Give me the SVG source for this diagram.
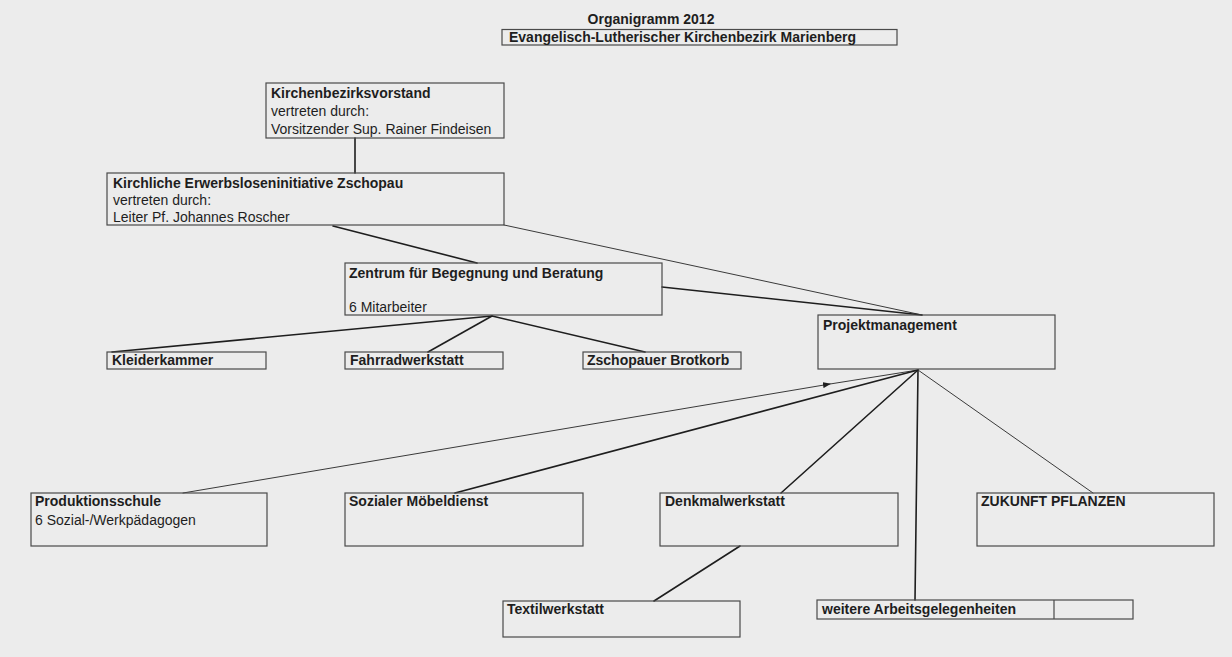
<svg xmlns="http://www.w3.org/2000/svg" width="1232" height="657" viewBox="0 0 1232 657">
  <style>
    .bg { fill: #ececec; }
    .box { fill: none; stroke: #4a4a4a; stroke-width: 1.2; }
    .t { font-family: "Liberation Sans", Arial, sans-serif; font-size: 14px; fill: #1e1e1e; }
    .b { font-weight: bold; }
    .link { fill: none; stroke: #1e1e1e; stroke-width: 1.6; stroke-linecap: round; }
    .thin { fill: none; stroke: #3a3a3a; stroke-width: 1; stroke-linecap: round; }
  </style>
  <defs>
    <marker id="tick" viewBox="0 0 8 6" refX="7" refY="3" markerWidth="8" markerHeight="6" markerUnits="userSpaceOnUse" orient="auto">
      <path d="M0,0 L8,3 L0,6 Z" fill="#1e1e1e"/>
    </marker>
  </defs>

  <rect class="bg" x="0" y="0" width="1232" height="657"/>

  <!-- heading -->
  <g id="title">
    <text class="t b" x="651" y="24" text-anchor="middle">Organigramm 2012</text>
    <rect class="box" x="502" y="29.5" width="395" height="15.5"/>
    <text class="t b" x="509" y="42">Evangelisch-Lutherischer Kirchenbezirk Marienberg</text>
  </g>

  <!-- connectors -->
  <g id="connectors">
    <line class="link" x1="355" y1="138" x2="355" y2="173"/>
    <line class="link" x1="333" y1="226" x2="477" y2="263"/>
    <line class="thin" x1="504" y1="225" x2="922" y2="315"/>
    <line class="link" x1="662" y1="287" x2="922" y2="315"/>
    <line class="link" x1="492" y1="316" x2="112" y2="352"/>
    <line class="link" x1="492" y1="316" x2="428" y2="352"/>
    <line class="link" x1="492" y1="316" x2="645" y2="352"/>
    <path class="thin" d="M183,493 L830,384 L918,370" marker-mid="url(#tick)"/>
    <line class="link" x1="918" y1="370" x2="455" y2="493"/>
    <line class="link" x1="918" y1="370" x2="781" y2="493"/>
    <line class="link" x1="918" y1="370" x2="915" y2="600"/>
    <line class="thin" x1="918" y1="370" x2="1093" y2="493"/>
    <line class="link" x1="740" y1="546" x2="654" y2="601"/>
  </g>

  <g id="kirchenbezirksvorstand">
    <rect class="box" x="266" y="83" width="238" height="55"/>
    <text class="t b" x="271" y="98">Kirchenbezirksvorstand</text>
    <text class="t" x="271" y="116">vertreten durch:</text>
    <text class="t" x="271" y="134">Vorsitzender Sup. Rainer Findeisen</text>
  </g>

  <g id="erwerbsloseninitiative">
    <rect class="box" x="107" y="173" width="397" height="52"/>
    <text class="t b" x="113" y="188">Kirchliche Erwerbsloseninitiative Zschopau</text>
    <text class="t" x="113" y="205">vertreten durch:</text>
    <text class="t" x="113" y="222">Leiter Pf. Johannes Roscher</text>
  </g>

  <g id="zentrum">
    <rect class="box" x="345" y="263" width="317" height="52"/>
    <text class="t b" x="349" y="278">Zentrum für Begegnung und Beratung</text>
    <text class="t" x="349" y="312">6 Mitarbeiter</text>
  </g>

  <g id="kleiderkammer">
    <rect class="box" x="107" y="352" width="159" height="17"/>
    <text class="t b" x="112" y="365">Kleiderkammer</text>
  </g>

  <g id="fahrradwerkstatt">
    <rect class="box" x="345" y="352" width="158" height="17"/>
    <text class="t b" x="350" y="365">Fahrradwerkstatt</text>
  </g>

  <g id="brotkorb">
    <rect class="box" x="583" y="352" width="158" height="17"/>
    <text class="t b" x="587" y="365">Zschopauer Brotkorb</text>
  </g>

  <g id="projektmanagement">
    <rect class="box" x="818" y="315" width="237" height="54"/>
    <text class="t b" x="823" y="330">Projektmanagement</text>
  </g>

  <g id="produktionsschule">
    <rect class="box" x="31" y="493" width="236" height="53"/>
    <text class="t b" x="35" y="506">Produktionsschule</text>
    <text class="t" x="35" y="525">6 Sozial-/Werkpädagogen</text>
  </g>

  <g id="moebeldienst">
    <rect class="box" x="345" y="493" width="238" height="53"/>
    <text class="t b" x="349" y="506">Sozialer Möbeldienst</text>
  </g>

  <g id="denkmalwerkstatt">
    <rect class="box" x="660" y="493" width="238" height="53"/>
    <text class="t b" x="665" y="506">Denkmalwerkstatt</text>
  </g>

  <g id="zukunft-pflanzen">
    <rect class="box" x="977" y="493" width="237" height="53"/>
    <text class="t b" x="981" y="506">ZUKUNFT PFLANZEN</text>
  </g>

  <g id="textilwerkstatt">
    <rect class="box" x="503" y="601" width="237" height="36"/>
    <text class="t b" x="507" y="614">Textilwerkstatt</text>
  </g>

  <g id="arbeitsgelegenheiten">
    <rect class="box" x="817" y="600" width="316" height="19"/>
    <line class="box" x1="1054" y1="600" x2="1054" y2="619"/>
    <text class="t b" x="822" y="614">weitere Arbeitsgelegenheiten</text>
  </g>
</svg>
